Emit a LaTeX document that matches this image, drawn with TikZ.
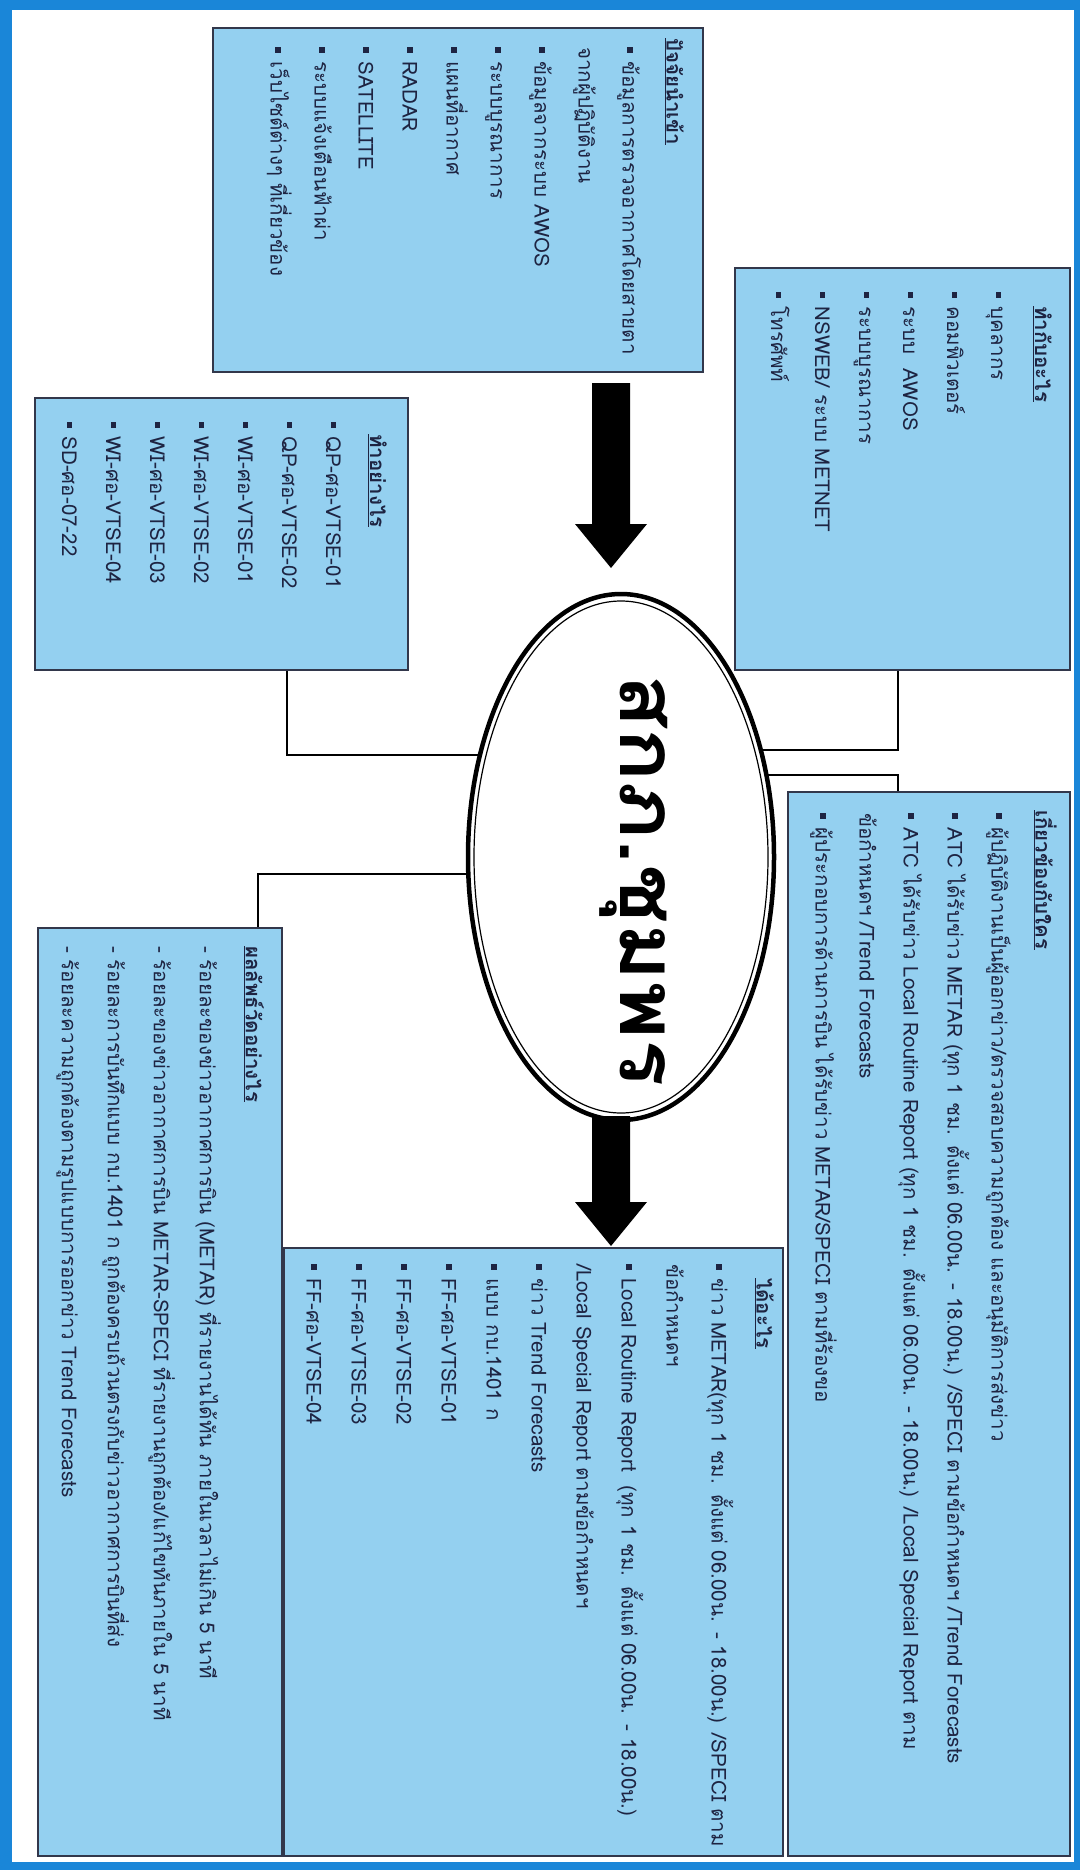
\documentclass[tikz,border=0pt]{standalone}
\usepackage{fontspec}
\setmainfont[Script=Thai]{Loma}
\newfontfamily\titlefont[Script=Thai,FakeStretch=1.1]{Loma}
\usetikzlibrary{backgrounds,calc,shapes.geometric}
\definecolor{frameblue}{RGB}{26,134,216}
\definecolor{boxblue}{RGB}{148,208,240}
\definecolor{boxline}{RGB}{50,55,75}
\definecolor{txt}{RGB}{30,36,66}
\newcommand\bul{\rule[0.22em]{0.28em}{0.28em}\hspace{0.42em}}
\newcommand\hd[1]{\underline{\bfseries #1}}
\newcommand\blockarrow[3]{%
  \fill[black] (#1-19,#2) -- (#1+19,#2) -- (#1+19,#3-44) -- (#1+36,#3-44) -- (#1,#3)
     -- (#1-36,#3-44) -- (#1-19,#3-44) -- cycle;}
\begin{document}
\begin{tikzpicture}[x=1pt,y=-1pt,
  box/.style={draw=boxline, line width=1.3pt, fill=boxblue, anchor=north west,
    inner sep=0pt, outer sep=0pt},
  tx/.style={rotate=-90, anchor=north west, inner sep=0pt, align=left, text=txt,
    font=\fontsize{20.5}{44}\selectfont},
  conn/.style={line width=2.8pt, black},
]
\useasboundingbox (0,0) rectangle (1080,1870);

% boxes
\node[box, minimum width=490pt, minimum height=344pt] (b1) at (213,28) {};
\node[box, minimum width=335pt, minimum height=402pt] (b2) at (735,268) {};
\node[box, minimum width=373pt, minimum height=272pt] (b3) at (35,398) {};
\node[box, minimum width=282pt, minimum height=1064pt] (b4) at (788,792) {};
\node[box, minimum width=244pt, minimum height=928pt] (b5) at (38,928) {};
\node[box, minimum width=499pt, minimum height=608pt] (b6) at (284,1248) {};

% texts
\node[tx, text width=330pt] (t1) at ($(b1.north east)+(-19,10)$) {%
\hd{ปัจจัยนำเข้า}\\
\hspace*{9pt}\bul ข้อมูลการตรวจอากาศโดยสายตา\\
\hspace*{9pt}จากผู้ปฏิบัติงาน\\
\hspace*{9pt}\bul ข้อมูลจากระบบ AWOS\\
\hspace*{9pt}\bul ระบบบูรณาการ\\
\hspace*{9pt}\bul แผนที่อากาศ\\
\hspace*{9pt}\bul RADAR\\
\hspace*{9pt}\bul SATELLITE\\
\hspace*{9pt}\bul ระบบแจ้งเตือนฟ้าผ่า\\
\hspace*{9pt}\bul เว็บไซต์ต่างๆ ที่เกี่ยวข้อง};

\node[tx, text width=380pt] (t2) at ($(b2.north east)+(-18,24)$) {%
\hspace*{14pt}\hd{ทำกับอะไร}\\
\bul บุคลากร\\
\bul คอมพิวเตอร์\\
\bul ระบบ~~AWOS\\
\bul ระบบบูรณาการ\\
\bul NSWEB/ ระบบ METNET\\
\bul โทรศัพท์};

\node[tx, text width=250pt] (t3) at ($(b3.north east)+(-21,24)$) {%
\hspace*{12pt}\hd{ทำอย่างไร}\\
\bul QP-ศอ-VTSE-01\\
\bul QP-ศอ-VTSE-02\\
\bul WI-ศอ-VTSE-01\\
\bul WI-ศอ-VTSE-02\\
\bul WI-ศอ-VTSE-03\\
\bul WI-ศอ-VTSE-04\\
\bul SD-ศอ-07-22};

\node[tx, text width=1050pt] (t4) at ($(b4.north east)+(-13,18)$) {%
\hd{เกี่ยวข้องกับใคร}\\
\hspace*{3pt}\bul ผู้ปฏิบัติงานเป็นผู้ออกข่าว/ตรวจสอบความถูกต้อง และอนุมัติการส่งข่าว\\
\hspace*{3pt}\bul ATC ได้รับข่าว METAR (ทุก 1 ชม. ตั้งแต่ 06.00น. - 18.00น.) /SPECI ตามข้อกำหนดฯ /Trend Forecasts\\
\hspace*{3pt}\bul ATC ได้รับข่าว Local Routine Report (ทุก 1 ชม. ตั้งแต่ 06.00น. - 18.00น.) /Local Special Report ตาม\\
\hspace*{3pt}ข้อกำหนดฯ /Trend Forecasts\\
\hspace*{3pt}\bul ผู้ประกอบการด้านการบิน ได้รับข่าว METAR/SPECI ตามที่ร้องขอ};

\node[tx, text width=910pt, font=\fontsize{20.5}{46}\selectfont] (t5) at ($(b5.north east)+(-18,18)$) {%
\hd{ผลลัพธ์วัดอย่างไร}\\
- ร้อยละของข่าวอากาศการบิน (METAR) ที่รายงานได้ทัน ภายในเวลาไม่เกิน 5 นาที\\
- ร้อยละของข่าวอากาศการบิน METAR-SPECI ที่รายงานถูกต้อง/แก้ไขทันภายใน 5 นาที\\
- ร้อยละการบันทึกแบบ กบ.1401 ก ถูกต้องครบถ้วนตรงกับข่าวอากาศการบินที่ส่ง\\
- ร้อยละความถูกต้องตามรูปแบบการออกข่าว Trend Forecasts};

\node[tx, text width=590pt, font=\fontsize{20.5}{45}\selectfont] (t6) at ($(b6.north east)+(-9,16)$) {%
\hspace*{14pt}\hd{ได้อะไร}\\
\bul ข่าว METAR(ทุก 1 ชม. ตั้งแต่ 06.00น. - 18.00น.) /SPECI ตาม\\
ข้อกำหนดฯ\\
\bul Local Routine Report~ (ทุก 1 ชม. ตั้งแต่ 06.00น. - 18.00น.)\\
/Local Special Report ตามข้อกำหนดฯ\\
\bul ข่าว Trend Forecasts\\
\bul แบบ กบ.1401 ก\\
\bul FF-ศอ-VTSE-01\\
\bul FF-ศอ-VTSE-02\\
\bul FF-ศอ-VTSE-03\\
\bul FF-ศอ-VTSE-04};

% central ellipse
\node[ellipse, draw=black, line width=4.5pt, fill=white, minimum width=306pt,
  minimum height=526pt, inner sep=0pt] (E) at (621,857) {};
\draw[line width=1.2pt] (E.center) ellipse [x radius=147pt, y radius=256pt];
\node[rotate=-90, font=\titlefont\fontsize{80}{84}\selectfont\bfseries, text=black, inner sep=0pt]
  (T) at ([xshift=13pt,yshift=-24pt]E.center) {สกภ.ชุมพร};

% block arrows
\blockarrow{611}{383}{568}
\blockarrow{611}{1116}{1246}

% frame and connectors
\begin{scope}[on background layer]
\fill[frameblue] (0,0) rectangle (1080,1870);
\fill[white] (12,10) rectangle (1074,1862);
\draw[conn] ($(b3.south west)+(252,0)$) |- ([yshift=102pt]E.center);
\draw[conn] ([yshift=-17pt]E.center) -| ($(b5.north west)+(220,0)$);
\draw[conn] ($(b2.south west)+(163,0)$) |- ([yshift=107pt]E.center);
\draw[conn] ([yshift=82pt]E.center) -| ($(b4.north west)+(110,0)$);
\end{scope}
\end{tikzpicture}
\end{document}
